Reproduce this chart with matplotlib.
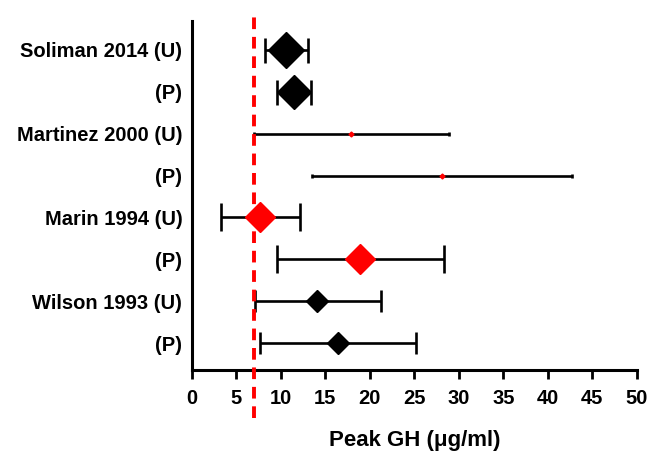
import matplotlib
matplotlib.use("Agg")
import matplotlib.pyplot as plt

labels = ["Soliman 2014 (U)", "(P)", "Martinez 2000 (U)", "(P)",
          "Marin 1994 (U)", "(P)", "Wilson 1993 (U)", "(P)"]
centers = [10.6, 11.5, 17.9, 28.1, 7.6, 18.9, 14.1, 16.4]
lower = [8.2, 9.6, 7.0, 13.5, 3.3, 9.6, 7.1, 7.7]
upper = [13.0, 13.4, 28.9, 42.7, 12.1, 28.3, 21.2, 25.2]
marker_colors = ["black", "black", "red", "red", "red", "red", "black", "black"]
marker_sizes = [18, 17, 2.5, 2.5, 15, 15, 11, 11]
cap_sizes = [9, 9, 1.5, 1.5, 10, 10, 8, 8]
cutoff = 7
xticks = list(range(0, 51, 5))

plt.rcParams['font.family'] = ['Liberation Sans', 'DejaVu Sans']
plt.rcParams['font.weight'] = 'bold'

fig = plt.figure(figsize=(6.53, 4.66), dpi=100)
ax = fig.add_axes([0.294, 0.206, 0.681, 0.749])

n = len(labels)
ys = list(range(n, 0, -1))
for y, c, lo, hi, mc, ms, cs in zip(ys, centers, lower, upper, marker_colors, marker_sizes, cap_sizes):
    ax.errorbar([c], [y], xerr=[[c - lo], [hi - c]], fmt='none', ecolor='black',
                elinewidth=1.9, capsize=cs, capthick=1.9, zorder=2)
    ax.plot([c], [y], marker='D', color=mc, markersize=ms, linestyle='none', zorder=3)

ax.plot([cutoff, cutoff], [-0.1375, 1.023], transform=ax.get_xaxis_transform(),
        color='red', linewidth=2.8, linestyle=(0, (3, 2)), clip_on=False, zorder=4)

ax.set_xlim(0, 50)
ax.set_ylim(0.36, n + 0.69)
ax.set_xticks(xticks)
ax.set_xticklabels([str(t) for t in xticks], fontsize=14.5, fontweight='bold')
ax.set_yticks(ys)
ax.set_yticklabels(labels, fontsize=14.5, fontweight='bold')
ax.tick_params(axis='y', length=0, pad=7)
ax.tick_params(axis='x', length=6.5, width=2, pad=7)
for s in ['top', 'right']:
    ax.spines[s].set_visible(False)
for s in ['left', 'bottom']:
    ax.spines[s].set_linewidth(2.2)
ax.set_xlabel("Peak GH (\u03bcg/ml)", fontsize=16, fontweight='bold', labelpad=16)

fig.savefig("out.png", dpi=100)
